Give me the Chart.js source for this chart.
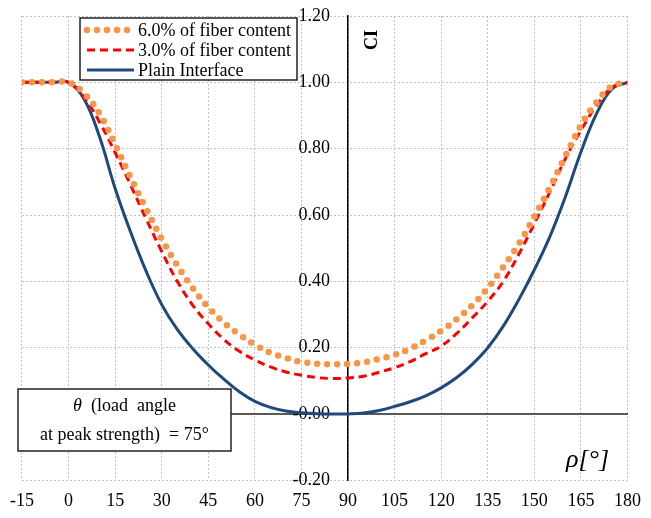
<!DOCTYPE html>
<html>
<head>
<meta charset="utf-8">
<script src="https://cdn.jsdelivr.net/npm/chart.js@4/dist/chart.umd.min.js"></script>
<style>
html, body { margin: 0; padding: 0; background: #fff; }
#wrap { width: 651px; height: 518px; }
</style>
</head>
<body>
<div id="wrap"><canvas id="chart1"></canvas></div>
<script>
// load angle rho in degrees
var angles = [-15, -10, -5, 0, 5, 10, 15, 20, 25, 30, 35, 40, 45, 50, 55, 60, 65, 70, 75, 80,
    85, 90, 95, 100, 105, 110, 115, 120, 125, 130, 135, 140, 145, 150, 155, 160, 165, 170, 175, 180];

var fiber6 = [1, 1, 1, 1, 0.967, 0.905, 0.812, 0.713, 0.618, 0.528, 0.448, 0.38, 0.322, 0.276, 0.24, 0.209, 0.185, 0.169, 0.157, 0.152,
    0.15, 0.151, 0.156, 0.166, 0.179, 0.197, 0.222, 0.251, 0.286, 0.328, 0.38, 0.443, 0.513, 0.595, 0.683, 0.778, 0.87, 0.94, 0.988, 1];

var fiber3 = [1, 1, 1, 1, 0.955, 0.88, 0.788, 0.69, 0.588, 0.49, 0.4, 0.328, 0.272, 0.225, 0.189, 0.163, 0.142, 0.127, 0.117, 0.11,
    0.107, 0.109, 0.114, 0.126, 0.14, 0.158, 0.182, 0.205, 0.243, 0.29, 0.34, 0.4, 0.482, 0.574, 0.67, 0.77, 0.855, 0.93, 0.985, 1];

var plain = [1, 1, 1, 1, 0.95, 0.835, 0.68, 0.548, 0.43, 0.33, 0.255, 0.197, 0.148, 0.105, 0.067, 0.038, 0.02, 0.009, 0.004, 0.001,
    0, 0.0005, 0.003, 0.011, 0.023, 0.037, 0.055, 0.079, 0.11, 0.15, 0.2, 0.265, 0.345, 0.435, 0.535, 0.655, 0.79, 0.905, 0.98, 1];

var seriesNames = ['6.0% of fiber content', '3.0% of fiber content', 'Plain Interface'];
var xMin = -15, xMax = 180, xStep = 15;
var yMin = -0.2, yMax = 1.2, yStep = 0.2;

function toPoints(ys) {
    return angles.map(function (a, i) { return {x: a, y: ys[i]}; });
}

Chart.defaults.font.family = "'Liberation Serif', 'Times New Roman', serif";
Chart.defaults.font.size = 18;
Chart.defaults.color = '#000';

var gridColor = '#c0c0c0';

// legend box, note box and axis titles
var extras = {
    id: 'extras',
    afterDraw: function (chart) {
        var ctx = chart.ctx;
        var sets = chart.data.datasets;
        ctx.save();

        // legend
        ctx.fillStyle = '#fff';
        ctx.fillRect(80, 18, 217, 62);
        ctx.strokeStyle = '#222';
        ctx.lineWidth = 1.5;
        ctx.strokeRect(80, 18, 217, 62);
        ctx.font = "18px 'Liberation Serif'";
        ctx.textBaseline = 'middle';
        ctx.textAlign = 'left';
        sets.forEach(function (ds, i) {
            var y = 30 + i * 20;
            ctx.save();
            ctx.strokeStyle = ds.borderColor;
            ctx.lineWidth = ds.borderWidth;
            ctx.lineCap = ds.borderCapStyle || 'butt';
            ctx.setLineDash(ds.borderDash || []);
            ctx.beginPath();
            ctx.moveTo(87, y);
            ctx.lineTo(134, y);
            ctx.stroke();
            ctx.restore();
            ctx.fillStyle = '#000';
            ctx.fillText(ds.label, 138, y + 1);
        });

        // note box
        ctx.fillStyle = '#fff';
        ctx.fillRect(18, 389, 213, 62);
        ctx.strokeStyle = '#222';
        ctx.lineWidth = 1.5;
        ctx.strokeRect(18, 389, 213, 62);
        ctx.fillStyle = '#000';
        var cx = 124.5;
        ctx.font = "italic 18px 'Liberation Serif'";
        var w1 = ctx.measureText('\u03b8').width;
        ctx.font = "18px 'Liberation Serif'";
        var rest = '  (load  angle';
        var w2 = ctx.measureText(rest).width;
        var x0 = cx - (w1 + w2) / 2;
        ctx.font = "italic 18px 'Liberation Serif'";
        ctx.fillText('\u03b8', x0, 406);
        ctx.font = "18px 'Liberation Serif'";
        ctx.fillText(rest, x0 + w1, 406);
        ctx.textAlign = 'center';
        ctx.fillText('at peak strength)  = 75\u00b0', cx, 435);

        // axis titles
        ctx.save();
        ctx.translate(372, 40);
        ctx.rotate(-Math.PI / 2);
        ctx.font = "bold 18px 'Liberation Serif'";
        ctx.textAlign = 'center';
        ctx.fillText('CI', 0, 0);
        ctx.restore();

        ctx.font = "italic 26px 'Liberation Serif'";
        ctx.textAlign = 'left';
        ctx.fillText('\u03c1[\u00b0]', 566, 460);
        ctx.restore();
    }
};

var chartCanvas1 = document.getElementById('chart1');
var myChart1 = new Chart(chartCanvas1, {
    type: 'line',
    data: {
        datasets: [{
            label: seriesNames[0],
            data: toPoints(fiber6),
            borderColor: '#F79646',
            borderWidth: 6.5,
            borderDash: [0, 10],
            borderCapStyle: 'round',
            pointRadius: 0,
            tension: 0.4,
            order: 0
        }, {
            label: seriesNames[1],
            data: toPoints(fiber3),
            borderColor: '#FF0000',
            borderWidth: 3,
            borderDash: [8, 5],
            pointRadius: 0,
            tension: 0.4,
            order: 1
        }, {
            label: seriesNames[2],
            data: toPoints(plain),
            borderColor: '#1F497D',
            borderWidth: 3,
            pointRadius: 0,
            tension: 0.4,
            order: 2
        }]
    },
    options: {
        responsive: true,
        maintainAspectRatio: false,
        animation: false,
        layout: {padding: {left: 20, right: 19, top: 16, bottom: -4}},
        plugins: {legend: {display: false}, tooltip: {enabled: false}},
        scales: {
            x: {
                type: 'linear',
                position: 'bottom',
                min: xMin, max: xMax,
                ticks: {stepSize: xStep, padding: 10, maxRotation: 0},
                grid: {color: gridColor, lineWidth: 1, drawTicks: false},
                border: {display: false, dash: [2, 2]}
            },
            x0: {
                type: 'linear',
                axis: 'x',
                position: {y: 0},
                min: xMin, max: xMax,
                ticks: {display: false},
                grid: {display: false},
                border: {display: true, color: '#595959', width: 2}
            },
            y: {
                type: 'linear',
                position: {x: 90},
                min: yMin, max: yMax,
                ticks: {
                    stepSize: yStep,
                    callback: function (v) { return v.toFixed(2) + '    '; }
                },
                grid: {color: gridColor, lineWidth: 1, drawTicks: false},
                border: {display: true, color: '#000', width: 1.5, dash: [2, 2]}
            }
        }
    },
    plugins: [extras]
});
</script>
</body>
</html>
